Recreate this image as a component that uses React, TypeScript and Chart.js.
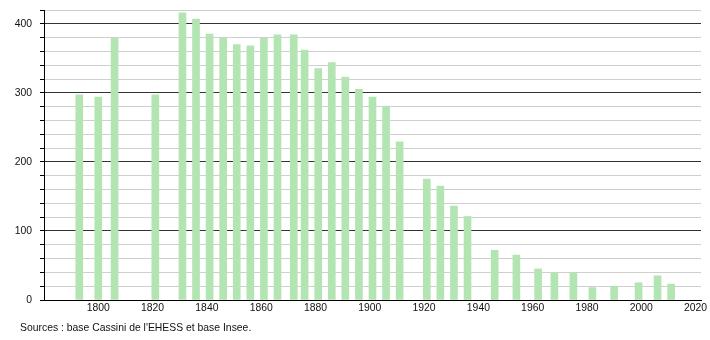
import React, { useEffect, useRef } from "react";
import { Chart, registerables } from "chart.js";

Chart.register(...registerables);

const years = [1793, 1800, 1806, 1821, 1831, 1836, 1841, 1846, 1851, 1856, 1861, 1866, 1872, 1876, 1881, 1886, 1891, 1896, 1901, 1906, 1911, 1921, 1926, 1931, 1936, 1946, 1954, 1962, 1968, 1975, 1982, 1990, 1999, 2006, 2011];
const population = [297, 294, 379, 297, 416, 407, 385, 379, 370, 368, 379, 384, 384, 362, 335, 344, 323, 305, 294, 281, 229, 175, 165, 136, 121, 72, 65, 45, 39, 39, 18, 20, 25, 35, 23];
const xTickLabels = [1800, 1820, 1840, 1860, 1880, 1900, 1920, 1940, 1960, 1980, 2000, 2020];
const yTickLabels = [0, 100, 200, 300, 400];
const sourceText = "Sources : base Cassini de l'EHESS et base Insee.";

const FONT = "'Liberation Sans', Arial, sans-serif";

export default function App() {
  const ref = useRef<HTMLCanvasElement | null>(null);
  useEffect(() => {
    document.body.style.margin = "0";
    const canvas = ref.current!;
    const sourcePlugin = {
      id: "sourceText",
      afterDraw(chart: any) {
        const ctx = chart.ctx;
        ctx.save();
        ctx.font = `10.4px ${FONT}`;
        ctx.fillStyle = "#111";
        ctx.textBaseline = "middle";
        ctx.textAlign = "left";
        ctx.fillText(sourceText, 20, 328);
        ctx.restore();
      },
    };
    const chart = new Chart(canvas, {
      type: "bar",
      data: {
        datasets: [
          {
            data: years.map((y, i) => ({ x: y, y: population[i] })),
            backgroundColor: "#b3e5b3",
            borderWidth: 0,
            barThickness: 7,
          },
        ],
      },
      options: {
        animation: false,
        responsive: false,
        maintainAspectRatio: false,
        layout: { padding: { left: 0, right: 9, top: 10, bottom: 20 } },
        plugins: { legend: { display: false }, tooltip: { enabled: false } },
        scales: {
          x: {
            type: "linear",
            min: 1780,
            max: 2022,
            offset: false,
            afterFit: (s: any) => {
              s.height = 20;
              s.paddingLeft = 0;
              s.paddingRight = 0;
            },
            afterBuildTicks: (s: any) => {
              s.ticks = xTickLabels.map((v) => ({ value: v }));
            },
            ticks: {
              autoSkip: false,
              maxRotation: 0,
              font: { family: FONT, size: 10.4 },
              color: "#111",
              padding: 2,
              callback: (v: any) => String(v),
            },
            grid: { display: false, drawTicks: false },
            border: { display: true, color: "#000", width: 1 },
          },
          y: {
            min: 0,
            max: 420,
            z: 1,
            afterFit: (s: any) => {
              s.width = 44;
              s.paddingTop = 0;
              s.paddingBottom = 0;
            },
            afterBuildTicks: (s: any) => {
              const t = [];
              for (let v = 0; v <= 420; v += 20) t.push({ value: v });
              s.ticks = t;
            },
            ticks: {
              autoSkip: false,
              font: { family: FONT, size: 10.4 },
              color: "#111",
              padding: 8,
              callback: (v: any) => (yTickLabels.includes(v) ? String(v) : ""),
            },
            grid: {
              color: (c: any) => (c.tick && c.tick.value % 100 === 0 ? "#333" : "#cfcfcf"),
              tickColor: "#000",
              tickLength: 4,
              lineWidth: 1,
            },
            border: { display: true, color: "#000", width: 1 },
          },
        },
      },
      plugins: [sourcePlugin],
    } as any);
    return () => chart.destroy();
  }, []);
  return <canvas ref={ref} width={710} height={340} style={{ display: "block" }} />;
}
